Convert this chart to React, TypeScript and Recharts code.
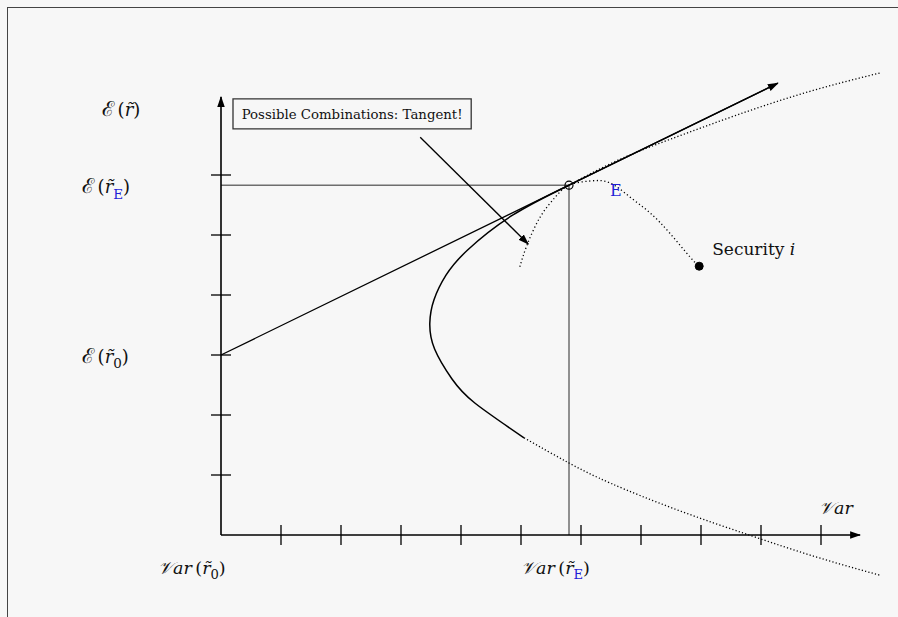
import React from 'react';
import { LineChart, Line, XAxis, YAxis, ReferenceLine, ReferenceDot, ReferenceArea, Label } from 'recharts';

// axis ticks (variance on x, expected return on y)
const xTicks = [1, 2, 3, 4, 5, 6, 7, 8, 9, 10];
const yTicks = [1, 2, 3, 4, 5, 6];

// tangent portfolio E and riskless asset
const tangentX = 5.8;
const tangentY = 5.83;
const risklessY = 3.0;

// capital market line
const cmlX = [0, 5.8, 9.28];
const cmlY = [3.0, 5.83, 7.53];

// efficient frontier, drawn solid between the two dotted tails
const frontierX = [5.8, 4.86, 4.11, 3.75, 3.55, 3.48, 3.56, 3.85, 4.23, 5.05];
const frontierY = [5.83, 5.33, 4.75, 4.33, 3.92, 3.53, 3.1, 2.6, 2.2, 1.62];
const upperTailX = [5.8, 6.6, 7.5, 8.6, 9.8, 10.98];
const upperTailY = [5.83, 6.24, 6.6, 7.0, 7.39, 7.7];
const lowerTailX = [5.05, 5.8, 6.5, 7.6, 8.8, 9.9, 10.98];
const lowerTailY = [1.62, 1.2, 0.86, 0.42, 0.0, -0.36, -0.67];

// combinations of E with security i
const comboX = [4.98, 5.1, 5.32, 5.57, 5.8, 6.15, 6.48, 6.82, 7.15, 7.48, 7.82, 7.97];
const comboY = [4.47, 4.83, 5.3, 5.63, 5.83, 5.9, 5.87, 5.63, 5.37, 5.03, 4.63, 4.48];
const securityX = 7.97;
const securityY = 4.48;

// annotation arrow + box
const noteText = 'Possible Combinations: Tangent!';
const noteArrowX = [3.32, 5.12];
const noteArrowY = [6.63, 4.85];
const noteBoxX = [0.2, 4.17];
const noteBoxY = [6.77, 7.27];

const toPts = (xs: number[], ys: number[]) => xs.map((x, i) => ({ x, y: ys[i] }));

const SERIF = "'DejaVu Serif', 'Liberation Serif', serif";
const BLUE = '#1f1fd6';

type Part = { t: string; it?: boolean; sub?: boolean; blue?: boolean; big?: boolean };

const MathText = ({ x, y, parts, size }: { x: number; y: number; parts: Part[]; size: number }) => {
  let shifted = false;
  return (
    <text x={x} y={y} fontFamily={SERIF} fontSize={size} fill="#111">
      {parts.map((p, i) => {
        let dy = 0;
        if (p.sub && !shifted) { dy = size * 0.3; shifted = true; }
        else if (!p.sub && shifted) { dy = -size * 0.3; shifted = false; }
        return (
          <tspan
            key={i}
            dy={dy || undefined}
            fontStyle={p.it ? 'italic' : 'normal'}
            fontSize={p.sub ? size * 0.75 : p.big ? size * 1.15 : size}
            fill={p.blue ? BLUE : '#111'}
          >
            {p.t}
          </tspan>
        );
      })}
    </text>
  );
};

// text anchored to a data point, shifted by a pixel offset
const textAt = (parts: Part[], dx: number, dy: number, size = 17) => (p: any) => (
  <MathText x={p.cx + dx} y={p.cy + dy} parts={parts} size={size} />
);

const arrowLine = (width: number) => (p: any) => (
  <line x1={p.x1} y1={p.y1} x2={p.x2} y2={p.y2} stroke="#000" strokeWidth={width} markerEnd="url(#arrowHead)" />
);

const expR: Part[] = [{ t: 'ℰ', big: true }, { t: '\u2009(' }, { t: 'r̃', it: true }, { t: ')' }];
const expRE: Part[] = [{ t: 'ℰ', big: true }, { t: '\u2009(' }, { t: 'r̃', it: true }, { t: 'E', sub: true, blue: true }, { t: ')' }];
const expR0: Part[] = [{ t: 'ℰ', big: true }, { t: '\u2009(' }, { t: 'r̃', it: true }, { t: '0', sub: true }, { t: ')' }];
const varR0: Part[] = [{ t: '𝒱ar', it: true }, { t: '\u2009(' }, { t: 'r̃', it: true }, { t: '0', sub: true }, { t: ')' }];
const varRE: Part[] = [{ t: '𝒱ar', it: true }, { t: '\u2009(' }, { t: 'r̃', it: true }, { t: 'E', sub: true, blue: true }, { t: ')' }];
const varAxis: Part[] = [{ t: '𝒱ar', it: true }];
const security: Part[] = [{ t: 'Security ' }, { t: 'i', it: true }];
const eLabel: Part[] = [{ t: 'E', blue: true }];

export default function App() {
  return (
    <div style={{ position: 'absolute', left: 0, top: 0, width: 898, height: 617, background: '#f7f7f7', overflow: 'hidden' }}>
      <svg width={0} height={0} style={{ position: 'absolute' }}>
        <defs>
          <marker id="arrowHead" viewBox="0 0 10 10" refX="9" refY="5" markerWidth="11" markerHeight="11" orient="auto" markerUnits="userSpaceOnUse">
            <path d="M0,1.6 L10,5 L0,8.4 z" fill="#000" />
          </marker>
        </defs>
      </svg>
      <div style={{ position: 'absolute', left: 7, top: 7, width: 1000, height: 1000, borderLeft: '1px solid #444', borderTop: '1px solid #444' }} />
      <LineChart width={898} height={617} margin={{ top: 55, right: 5, bottom: 10, left: 221 }} style={{ position: 'absolute', left: 0, top: 0 }}>
        <XAxis type="number" dataKey="x" domain={[0, 11.2]} hide />
        <YAxis type="number" dataKey="y" domain={[-1.2, 8]} hide />

        {/* guide lines to E */}
        <ReferenceLine segment={[{ x: 0, y: tangentY }, { x: tangentX, y: tangentY }]} stroke="#6e6e6e" strokeWidth={1.5} ifOverflow="visible" />
        <ReferenceLine segment={[{ x: tangentX, y: 0 }, { x: tangentX, y: tangentY }]} stroke="#6e6e6e" strokeWidth={1.5} ifOverflow="visible" />

        {/* axes */}
        <ReferenceLine segment={[{ x: 0, y: 0 }, { x: 10.65, y: 0 }]} shape={arrowLine(1.6)} ifOverflow="visible" />
        <ReferenceLine segment={[{ x: 0, y: 0 }, { x: 0, y: 7.3 }]} shape={arrowLine(1.6)} ifOverflow="visible" />
        {xTicks.map(t => (
          <ReferenceLine key={`xt${t}`} segment={[{ x: t, y: -1 / 6 }, { x: t, y: 1 / 6 }]} stroke="#000" strokeWidth={1.3} ifOverflow="visible" />
        ))}
        {yTicks.map(t => (
          <ReferenceLine key={`yt${t}`} segment={[{ x: -1 / 6, y: t }, { x: 1 / 6, y: t }]} stroke="#000" strokeWidth={1.3} ifOverflow="visible" />
        ))}

        <Line data={toPts(cmlX, cmlY)} dataKey="y" type="linear" stroke="#000" strokeWidth={1.3} dot={false} isAnimationActive={false} />
        <ReferenceLine segment={[{ x: cmlX[1], y: cmlY[1] }, { x: cmlX[2], y: cmlY[2] }]} shape={arrowLine(1.3)} ifOverflow="visible" />
        <Line data={toPts(frontierX, frontierY)} dataKey="y" type="natural" stroke="#000" strokeWidth={1.5} dot={false} isAnimationActive={false} />
        <Line data={toPts(upperTailX, upperTailY)} dataKey="y" type="natural" stroke="#000" strokeWidth={1.3} strokeDasharray="1.2 2.2" dot={false} isAnimationActive={false} />
        <Line data={toPts(lowerTailX, lowerTailY)} dataKey="y" type="natural" stroke="#000" strokeWidth={1.3} strokeDasharray="1.2 2.2" dot={false} isAnimationActive={false} />
        <Line data={toPts(comboX, comboY)} dataKey="y" type="natural" stroke="#000" strokeWidth={1.3} strokeDasharray="1.2 2.6" dot={false} isAnimationActive={false} />

        {/* annotation */}
        <ReferenceArea x1={noteBoxX[0]} x2={noteBoxX[1]} y1={noteBoxY[0]} y2={noteBoxY[1]} fill="#f7f7f7" fillOpacity={1} stroke="#333" strokeWidth={1.3} ifOverflow="visible">
          <Label value={noteText} position="center" fontFamily={SERIF} fontSize={13.3} fill="#111" />
        </ReferenceArea>
        <ReferenceLine segment={[{ x: noteArrowX[0], y: noteArrowY[0] }, { x: noteArrowX[1], y: noteArrowY[1] }]} shape={arrowLine(1.3)} ifOverflow="visible" />

        <ReferenceDot x={tangentX} y={tangentY} r={4} fill="none" stroke="#000" strokeWidth={1.2} ifOverflow="visible" />
        <ReferenceDot x={securityX} y={securityY} r={4} fill="#000" stroke="#000" ifOverflow="visible" />

        {/* text labels */}
        <ReferenceDot x={0} y={7.3} r={0} shape={textAt(expR, -119, 19, 18)} ifOverflow="visible" />
        <ReferenceDot x={0} y={tangentY} r={0} shape={textAt(expRE, -139, 8, 18)} ifOverflow="visible" />
        <ReferenceDot x={0} y={risklessY} r={0} shape={textAt(expR0, -139, 8, 18)} ifOverflow="visible" />
        <ReferenceDot x={0} y={0} r={0} shape={textAt(varR0, -63, 39, 17.5)} ifOverflow="visible" />
        <ReferenceDot x={tangentX} y={0} r={0} shape={textAt(varRE, -48, 39, 17.5)} ifOverflow="visible" />
        <ReferenceDot x={10.65} y={0} r={0} shape={textAt(varAxis, -41, -21, 17.5)} ifOverflow="visible" />
        <ReferenceDot x={securityX} y={securityY} r={0} shape={textAt(security, 13, -11)} ifOverflow="visible" />
        <ReferenceDot x={tangentX} y={tangentY} r={0} shape={textAt(eLabel, 41, 11, 16)} ifOverflow="visible" />
      </LineChart>
    </div>
  );
}
